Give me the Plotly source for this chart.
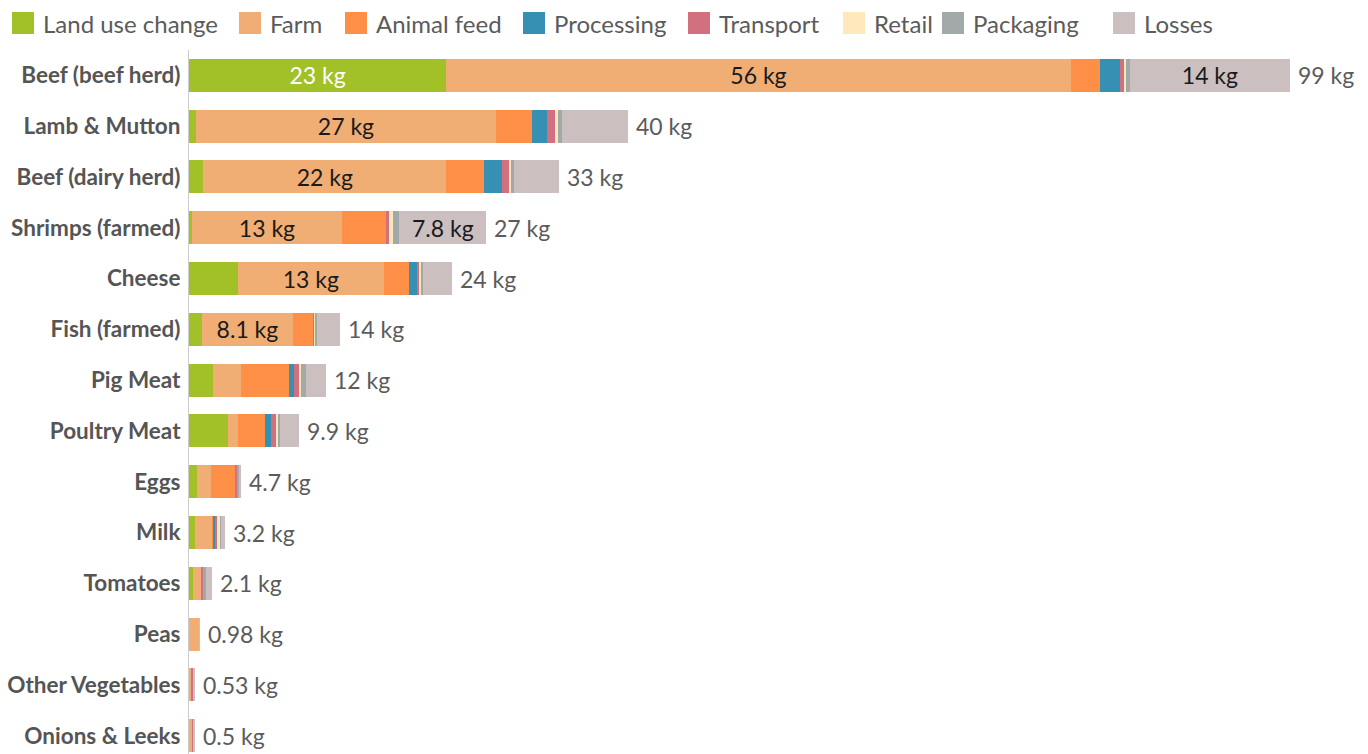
import plotly.graph_objects as go

categories = ["Beef (beef herd)", "Lamb & Mutton", "Beef (dairy herd)", "Shrimps (farmed)",
              "Cheese", "Fish (farmed)", "Pig Meat", "Poultry Meat", "Eggs", "Milk",
              "Tomatoes", "Peas", "Other Vegetables", "Onions & Leeks"]

land_use_change = [23.1, 0.6, 1.3, 0.3, 4.4, 1.2, 2.2, 3.5, 0.7, 0.5, 0.4, 0.0, 0.0, 0.0]
farm            = [56.1, 27.0, 21.8, 13.4, 13.1, 8.1, 2.5, 0.9, 1.3, 1.6, 0.7, 0.95, 0.25, 0.35]
animal_feed     = [2.6, 3.2, 3.4, 4.0, 2.3, 1.8, 4.3, 2.4, 2.2, 0.1, 0.0, 0.0, 0.0, 0.0]
processing      = [1.8, 1.4, 1.6, 0.0, 0.7, 0.0, 0.4, 0.6, 0.0, 0.2, 0.0, 0.0, 0.0, 0.0]
transport       = [0.4, 0.7, 0.6, 0.3, 0.2, 0.2, 0.5, 0.4, 0.1, 0.1, 0.2, 0.0, 0.15, 0.05]
retail          = [0.2, 0.2, 0.2, 0.3, 0.2, 0.1, 0.2, 0.2, 0.0, 0.3, 0.0, 0.0, 0.0, 0.0]
packaging       = [0.3, 0.4, 0.3, 0.6, 0.1, 0.1, 0.4, 0.2, 0.2, 0.1, 0.2, 0.0, 0.03, 0.0]
losses          = [14.4, 5.9, 4.0, 7.8, 2.6, 2.1, 1.8, 1.7, 0.2, 0.3, 0.6, 0.03, 0.1, 0.1]
totals          = [99, 40, 33, 27, 24, 14, 12, 9.9, 4.7, 3.2, 2.1, 0.98, 0.53, 0.5]

series = [
    ("Land use change", land_use_change, "#a2c128"),
    ("Farm", farm, "#f0ad74"),
    ("Animal feed", animal_feed, "#fd8f47"),
    ("Processing", processing, "#3590b3"),
    ("Transport", transport, "#d3707f"),
    ("Retail", retail, "#ffe8bc"),
    ("Packaging", packaging, "#a2a9a9"),
    ("Losses", losses, "#cbbfc0"),
]

W, H = 1368, 754
ML, MR, MT, MB = 189, 10, 50, 0
PW = W - ML - MR
PH = H - MT - MB


def fmt(v):
    if v >= 10:
        return f"{round(v):.0f} kg"
    return f"{v:.1f} kg" if v >= 1 else f"{v:.2g} kg"


fig = go.Figure()
for name, vals, color in series:
    texts = [fmt(v) if v >= 7 else "" for v in vals]
    tcolors = ["#ffffff" if name == "Land use change" else "#1a1a1a" for _ in vals]
    fig.add_trace(go.Bar(
        y=categories, x=vals, name=name, orientation="h",
        marker=dict(color=color, line=dict(width=0)),
        text=texts, textposition="inside", insidetextanchor="middle",
        textfont=dict(color=tcolors, size=23, family="Lato"),
        constraintext="none", showlegend=False,
        hoverinfo="x+name",
    ))

# total labels to the right of each bar (placed at the stacked bar end)
bar_ends = [sum(s[1][i] for s in series) for i in range(len(categories))]
for cat, end, tot in zip(categories, bar_ends, totals):
    fig.add_annotation(x=end, y=cat, xref="x", yref="y", text=fmt(tot),
                       xanchor="left", yanchor="middle", xshift=6, showarrow=False,
                       font=dict(size=23, color="#5b5b5b", family="Lato"))

# manual legend (square swatches + labels) along the top
legend_x = [12, 239, 345, 523, 688, 843, 942, 1113]
legend_y = 23
sw = 22
for (name, _, color), px in zip(series, legend_x):
    x0 = (px - ML) / PW
    x1 = (px + sw - ML) / PW
    y0 = (H - MB - (legend_y + sw / 2)) / PH
    y1 = (H - MB - (legend_y - sw / 2)) / PH
    fig.add_shape(type="rect", xref="paper", yref="paper", x0=x0, x1=x1, y0=y0, y1=y1,
                  fillcolor=color, line=dict(width=0))
    fig.add_annotation(x=(px + sw + 7 - ML) / PW, y=(H - MB - legend_y) / PH,
                       xref="paper", yref="paper", text=name, showarrow=False,
                       xanchor="left", yanchor="middle",
                       font=dict(size=24, color="#5b5b5b", family="Lato"))

fig.update_layout(
    barmode="stack", bargap=0.35,
    width=W, height=H,
    margin=dict(l=ML, r=MR, t=MT, b=MB, autoexpand=False),
    paper_bgcolor="white", plot_bgcolor="white",
    font=dict(family="Lato", color="#555555"),
    showlegend=False,
    xaxis=dict(range=[0, 105], showgrid=False, zeroline=False, showticklabels=False,
               showline=False, automargin=False),
    yaxis=dict(categoryorder="array", categoryarray=categories,
               range=[13.36, -0.5], showgrid=False, zeroline=False,
               showline=True, linecolor="#cccccc", linewidth=1,
               ticks="", ticklabelstandoff=3, automargin=False,
               tickfont=dict(size=22.5, color="#555555", family="Lato", weight="bold")),
)

fig.write_html("out.html", config={"displayModeBar": False},
               post_script="document.body.style.margin='0';document.body.style.overflow='hidden';")
